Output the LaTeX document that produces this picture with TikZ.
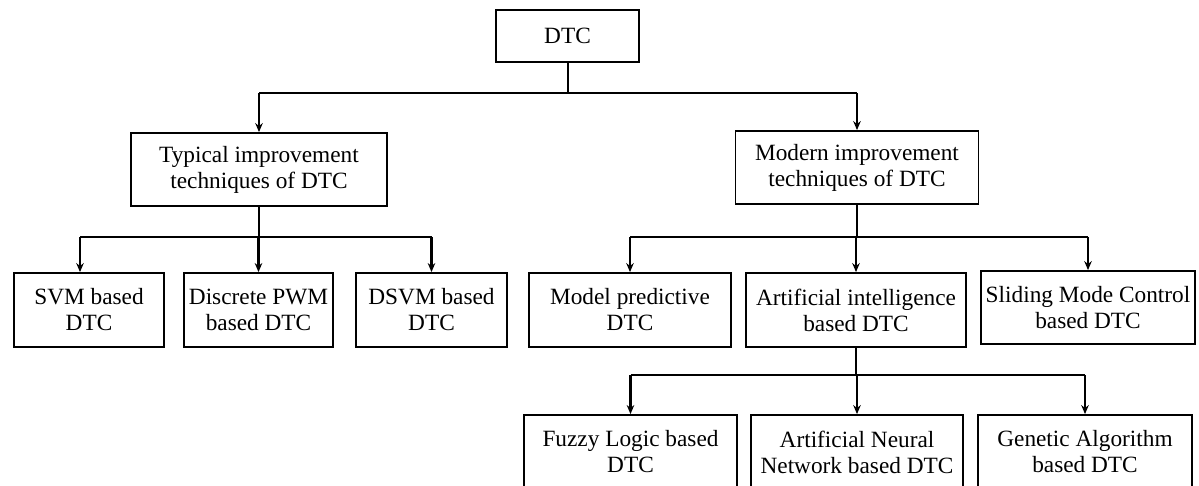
\documentclass[tikz,border=0pt]{standalone}
\usepackage{fontspec}
\setmainfont{Liberation Serif}
\usetikzlibrary{arrows.meta}
\begin{document}
\begin{tikzpicture}[x=1pt,y=-1pt,
  box/.style={draw, line width=1.8pt, align=center, inner sep=0pt,
    font=\fontsize{23.3}{26}\selectfont},
  hline/.style={line width=1.4pt},
  stem/.style={line width=2pt},
  arr/.style={line width=2.6pt, -{Stealth[length=9pt,width=7.5pt]}},
]
\clip (0,0) rectangle (1199,486);
% boxes
\node[box, minimum width=143pt, minimum height=52pt] (dtc) at (567.5,36) {DTC};
\node[box, minimum width=256pt, minimum height=73pt] (typ) at (259,169.5) {Typical improvement\\techniques of DTC};
\node[box, minimum width=243pt, minimum height=73pt] (mod) at (857,167.5) {Modern improvement\\techniques of DTC};
\node[box, minimum width=150pt, minimum height=74pt] (svm) at (89,310) {SVM based\\DTC};
\node[box, minimum width=149pt, minimum height=74pt] (dpwm) at (258.5,310) {Discrete PWM\\based DTC};
\node[box, minimum width=151pt, minimum height=74pt] (dsvm) at (431.5,310) {DSVM based\\DTC};
\node[box, minimum width=202pt, minimum height=74pt] (mpc) at (630,310) {Model predictive\\DTC};
\node[box, minimum width=220pt, minimum height=74pt] (ai) at (856,310) {Artificial intelligence\\based DTC};
\node[box, minimum width=214pt, minimum height=73pt] (smc) at (1088,307.5) {Sliding Mode Control\\based DTC};
\node[box, minimum width=213pt, minimum height=74pt] (fuz) at (630.5,452) {Fuzzy Logic based\\DTC};
\node[box, minimum width=212pt, minimum height=74pt] (ann) at (857,452) {Artificial Neural\\Network based DTC};
\node[box, minimum width=214pt, minimum height=74pt] (ga) at (1085,452) {Genetic Algorithm\\based DTC};
% junction levels
\coordinate (r1) at (0,93);
\coordinate (r2) at (0,237);
\coordinate (r3) at (0,375);
\coordinate (asvm) at ([xshift=-9pt]svm.north);
% level 1
\draw[stem] (dtc.south) -- (dtc.south |- r1);
\draw[hline] (typ.north |- r1) -- (mod.north |- r1);
\draw[arr] (typ.north |- r1) -- (typ.north);
\draw[arr] (mod.north |- r1) -- (mod.north);
% level 2 left
\draw[stem] (typ.south) -- (typ.south |- r2);
\draw[hline] (asvm |- r2) -- (dsvm.north |- r2);
\draw[arr] (asvm |- r2) -- (asvm);
\draw[arr] (dpwm.north |- r2) -- (dpwm.north);
\draw[arr] (dsvm.north |- r2) -- (dsvm.north);
% level 2 right
\draw[stem] (mod.south) -- (mod.south |- r2);
\draw[hline] (mpc.north |- r2) -- (smc.north |- r2);
\draw[arr] (mpc.north |- r2) -- (mpc.north);
\draw[arr] (ai.north |- r2) -- (ai.north);
\draw[arr] (smc.north |- r2) -- (smc.north);
% level 3
\draw[stem] (ai.south) -- (ai.south |- r3);
\draw[hline] (fuz.north |- r3) -- (ga.north |- r3);
\draw[arr] (fuz.north |- r3) -- (fuz.north);
\draw[arr] (ann.north |- r3) -- (ann.north);
\draw[arr] (ga.north |- r3) -- (ga.north);
\end{tikzpicture}
\end{document}
